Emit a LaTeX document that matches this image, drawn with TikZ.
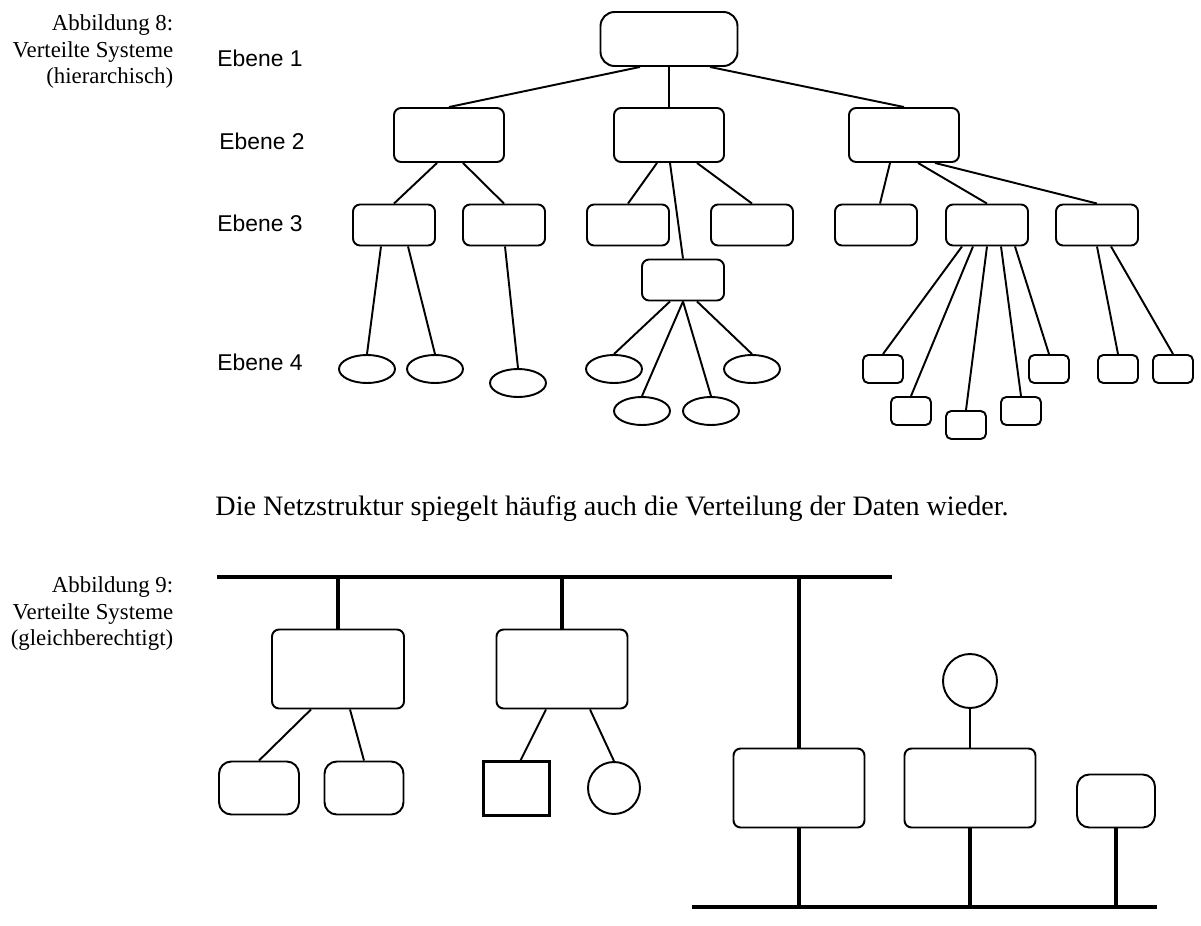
\documentclass[tikz,border=0pt]{standalone}
\usepackage{fontspec}
\setmainfont{Liberation Serif}
\newfontfamily\ebenefont{Liberation Sans}
\usetikzlibrary{calc,shapes.geometric}
\tikzset{box/.style={draw,line width=1.1pt,rounded corners=4pt,inner sep=0pt},
  leaf/.style={draw,line width=1.1pt,ellipse,inner sep=0pt,minimum width=1.12cm,minimum height=0.56cm},
  sq/.style={box,rounded corners=3pt,minimum width=0.8cm,minimum height=0.56cm},
  lev/.style={font=\ebenefont\fontsize{13}{15}\selectfont},
  captxt/.style={align=right,anchor=north east,font=\fontsize{13}{15}\selectfont},
  bus/.style={line width=2.4pt}}

\begin{document}
\begin{tikzpicture}[x=0.02cm,y=-0.02cm,line width=1.1pt]
\useasboundingbox (0,0) rectangle (1201,926);

% Captions
\node[captxt] at (180,8) {Abbildung 8:\\Verteilte Systeme\\(hierarchisch)};
\node[captxt] at (180,570) {Abbildung 9:\\Verteilte Systeme\\(gleichberechtigt)};
\node[lev] at (260,58) {Ebene 1};
\node[lev] at (262,141) {Ebene 2};
\node[lev] at (260,223) {Ebene 3};
\node[lev] at (260,362) {Ebene 4};
\node[font=\fontsize{16}{18}\selectfont] at (612,509) {Die Netzstruktur spiegelt häufig auch die Verteilung der Daten wieder.};

% Ebene 1 und 2
\node[box,rounded corners=8pt,minimum width=2.74cm,minimum height=1.08cm] (root) at (669,39) {};
\foreach \n/\x in {b1/449,b2/669,b3/904}
  \node[box,minimum width=2.2cm,minimum height=1.08cm] (\n) at (\x,135) {};

% Ebene 3
\foreach \n/\x in {c1/394,c2/504,c3/628,c4/752,c5/876,c6/987,c7/1097}
  \node[box,minimum width=1.64cm,minimum height=0.82cm] (\n) at (\x,225) {};
\node[box,minimum width=1.64cm,minimum height=0.82cm] (d) at (683,280) {};

% Ebene 4
\foreach \n/\x/\y in {e1/367/369,e2/435/369,e3/518/383,e4/614/369,e5/752/369,e6/642/411,e7/711/411}
  \node[leaf] (\n) at (\x,\y) {};
\foreach \n/\x/\y in {s1/883/369,s2/911/411,s3/966/425,s4/1021/411,s5/1049/369,s6/1118/369,s7/1173/369}
  \node[sq] (\n) at (\x,\y) {};

% Kanten
\draw ($(root.south)+(-29,0)$) -- (b1.north);
\draw (root.south) -- (b2.north);
\draw ($(root.south)+(41,0)$) -- (b3.north);
\draw ($(b1.south)+(-12,0)$) -- (c1.north);
\draw ($(b1.south)+(14,0)$) -- (c2.north);
\draw ($(b2.south)+(-12,0)$) -- (c3.north);
\draw ($(b2.south)+(1,0)$) -- (d.north);
\draw ($(b2.south)+(28,0)$) -- (c4.north);
\draw ($(b3.south)+(-14,0)$) -- ($(c5.north)+(4,0)$);
\draw ($(b3.south)+(14,0)$) -- (c6.north);
\draw ($(b3.south)+(31,0)$) -- (c7.north);
\draw ($(c1.south)+(-13,0)$) -- (e1.north);
\draw ($(c1.south)+(14,0)$) -- (e2.north);
\draw ($(c2.south)+(1,0)$) -- (e3.north);
\draw ($(d.south)+(-13,0)$) -- (e4.north);
\draw (d.south) -- (e6.north);
\draw (d.south) -- (e7.north);
\draw ($(d.south)+(14,0)$) -- (e5.north);
\draw ($(c6.south)+(-25,0)$) -- (s1.north);
\draw ($(c6.south)+(-14,0)$) -- (s2.north);
\draw (c6.south) -- (s3.north);
\draw ($(c6.south)+(14,0)$) -- (s4.north);
\draw ($(c6.south)+(28,0)$) -- (s5.north);
\draw (c7.south) -- (s6.north);
\draw ($(c7.south)+(14,0)$) -- (s7.north);

% Busse
\coordinate (t1) at (217,577); \coordinate (t2) at (892,577);
\coordinate (u1) at (692,907); \coordinate (u2) at (1157,907);
\draw[bus] (t1) -- (t2);
\draw[bus] (u1) -- (u2);

% Rechner
\node[box,minimum width=2.64cm,minimum height=1.58cm] (ra) at (338,669) {};
\node[box,minimum width=2.62cm,minimum height=1.58cm] (rb) at (562,669) {};
\node[box,minimum width=2.62cm,minimum height=1.58cm] (rc) at (799,788) {};
\node[box,minimum width=2.62cm,minimum height=1.58cm] (rd) at (970,788) {};
\node[box,rounded corners=7pt,minimum width=1.56cm,minimum height=1.06cm] (re) at (1116,801) {};
\node[draw,line width=1.1pt,circle,minimum size=1.08cm,inner sep=0pt] (kd) at (970,681) {};
\node[box,rounded corners=7pt,minimum width=1.6cm,minimum height=1.06cm] (ra1) at (259,788) {};
\node[box,rounded corners=7pt,minimum width=1.58cm,minimum height=1.06cm] (ra2) at (364,788) {};
\node[draw,line width=1.2pt,minimum width=1.32cm,minimum height=1.08cm,inner sep=0pt] (rb1) at (516.5,788.5) {};
\node[draw,line width=1.1pt,circle,minimum size=1.04cm,inner sep=0pt] (rb2) at (614,788) {};

\draw[bus] (ra.north |- t1) -- (ra.north);
\draw[bus] (rb.north |- t1) -- (rb.north);
\draw[bus] (rc.north |- t1) -- (rc.north);
\draw[bus] (rc.south) -- (rc.south |- u1);
\draw[bus] (rd.south) -- (rd.south |- u1);
\draw[bus] (re.south) -- (re.south |- u1);
\draw (kd) -- (rd.north);
\draw ($(ra.south)+(-27,0)$) -- (ra1.north);
\draw ($(ra.south)+(12,0)$) -- (ra2.north);
\draw ($(rb.south)+(-16,0)$) -- ($(rb1.north)+(4,0)$);
\draw ($(rb.south)+(28,0)$) -- (rb2.north);
\end{tikzpicture}
\end{document}
